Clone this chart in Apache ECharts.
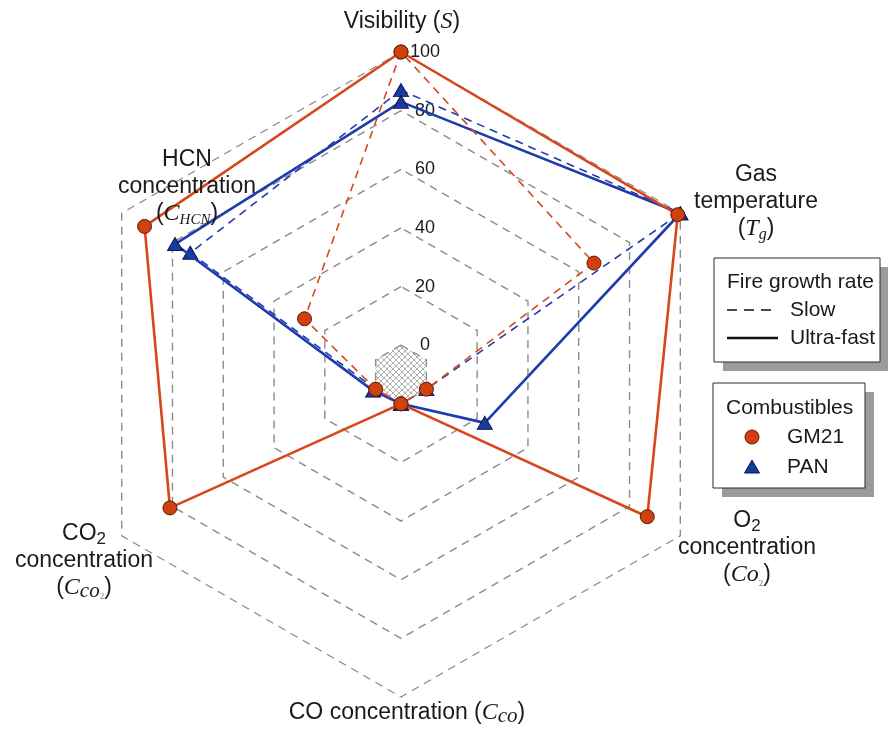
<!DOCTYPE html>
<html>
<head>
<meta charset="utf-8">
<script src="https://cdn.jsdelivr.net/npm/echarts@6/dist/echarts.min.js"></script>
<style>
  html, body { margin: 0; padding: 0; background: #ffffff; }
  #chart { width: 888px; height: 729px; }
</style>
</head>
<body>
<div id="chart"></div>
<script>
// Indicators listed clockwise from the top of the radar
const indicatorKeys = ['Visibility', 'Gas temperature', 'O2 concentration', 'CO concentration', 'CO2 concentration', 'HCN concentration'];

// Normalised values (0-100) per indicator, same order as indicatorKeys
const gm21Slow      = [100, 66, 0, 0, 0, 28];
const gm21UltraFast = [100, 99, 87, 0, 81, 91];
const panSlow       = [87, 100, 0, 0, 0, 73];
const panUltraFast  = [83, 100, 23, 0, 1, 79];

// Zero level, shown as the hatched hexagon in the middle
const zeroLevel = [0, 0, 0, 0, 0, 0];

// Scale and ring labels
const axisMin = -10;
const axisMax = 100;
const tickLabels = [0, 20, 40, 60, 80, 100];

// Legend entries
const growthRates = ['Slow', 'Ultra-fast'];
const combustibles = ['GM21', 'PAN'];

// Rich-text titles for each indicator (clockwise from top)
const axisTitles = [
  'Visibility ({it|S})',
  'Gas\ntemperature\n({it|T}{sub|g})',
  'O{s2|2}\nconcentration\n({it|Co}{tiny|2})',
  'CO concentration ({it|C}{itl|co})',
  'CO{s2|2}\nconcentration\n({it|C}{itl|co}{tiny|2})',
  'HCN\nconcentration\n({it|C}{sc|HCN})'
];

// ---------------- styling / layout ----------------
const RED = '#d8471a';
const RED_FILL = '#d1400f';
const RED_EDGE = '#5c1a05';
const BLUE = '#1f3cad';
const BLUE_FILL = '#1b3a9f';
const BLUE_EDGE = '#0b1850';
const GRID = '#8c8c8c';
const TEXT = '#1a1a1a';
const SANS = '"Liberation Sans", Arial, sans-serif';
const SERIF = '"Liberation Serif", "Times New Roman", serif';

const radarCenter = [401, 374.5];
const radarRadius = 322.5;

// title anchor points (centre of each text block), clockwise from top
const titleAnchors = [[402, 22], [756, 202], [747, 548], [407, 713], [84, 561], [187, 187]];

// ECharts lays indicators out counter-clockwise, so remap the clockwise order
const ccwOrder = [0, 5, 4, 3, 2, 1];
const toCcw = arr => ccwOrder.map(i => arr[i]);

function hatchPattern() {
  const c = document.createElement('canvas');
  c.width = 6; c.height = 6;
  const g = c.getContext('2d');
  g.strokeStyle = '#9a9a9a';
  g.lineWidth = 0.8;
  g.beginPath();
  g.moveTo(0, 0); g.lineTo(6, 6);
  g.moveTo(6, 0); g.lineTo(0, 6);
  g.stroke();
  return c;
}

const indicators = toCcw(indicatorKeys).map((name, k) => {
  const ind = { name: name, min: axisMin, max: axisMax };
  if (k === 0) {
    ind.axisLabel = {
      show: true,
      formatter: v => (tickLabels.indexOf(Math.round(v)) >= 0 && Math.abs(v - Math.round(v)) < 1e-6) ? String(Math.round(v)) : ''
    };
  }
  return ind;
});

const seriesDefs = [
  { name: 'PAN Slow', values: panSlow, color: BLUE, fill: BLUE_FILL, edge: BLUE_EDGE, symbol: 'triangle', dashed: true },
  { name: 'PAN Ultra-fast', values: panUltraFast, color: BLUE, fill: BLUE_FILL, edge: BLUE_EDGE, symbol: 'triangle', dashed: false },
  { name: 'GM21 Slow', values: gm21Slow, color: RED, fill: RED_FILL, edge: RED_EDGE, symbol: 'circle', dashed: true },
  { name: 'GM21 Ultra-fast', values: gm21UltraFast, color: RED, fill: RED_FILL, edge: RED_EDGE, symbol: 'circle', dashed: false }
];

const series = [{
  type: 'radar',
  name: 'zero',
  silent: true,
  z: 1,
  symbol: 'none',
  lineStyle: { width: 0, opacity: 0 },
  areaStyle: { color: { image: hatchPattern(), repeat: 'repeat' }, opacity: 1 },
  data: [{ value: toCcw(zeroLevel) }]
}].concat(seriesDefs.map((s, i) => ({
  type: 'radar',
  name: s.name,
  z: 2 + i,
  symbol: s.symbol,
  symbolSize: s.symbol === 'circle' ? 14 : [15, 13],
  itemStyle: { color: s.fill, borderColor: s.edge, borderWidth: 1 },
  lineStyle: s.dashed
    ? { color: s.color, width: 1.6, type: [8, 6] }
    : { color: s.color, width: 2.6, type: 'solid' },
  data: [{ value: toCcw(s.values) }]
})));

// legend boxes
function legendBox(x, y, w, h) {
  return [
    { type: 'rect', shape: { x: x + 9, y: y + 9, width: w, height: h }, style: { fill: '#9b9b9b' }, z: 10 },
    { type: 'rect', shape: { x: x, y: y, width: w, height: h }, style: { fill: '#ffffff', stroke: '#2a2a2a', lineWidth: 1 }, z: 11 }
  ];
}
function legendText(text, x, y) {
  return { type: 'text', x: x, y: y, z: 12, style: { text: text, fill: TEXT, font: '21px ' + SANS, verticalAlign: 'middle', align: 'left' } };
}

const graphics = [];
// indicator titles
axisTitles.forEach((t, i) => {
  graphics.push({
    type: 'text',
    x: titleAnchors[i][0],
    y: titleAnchors[i][1],
    z: 20,
    style: {
      text: t,
      fill: TEXT,
      font: '23px ' + SANS,
      align: 'center',
      verticalAlign: 'middle',
      lineHeight: 27,
      rich: {
        it: { fontFamily: SERIF, fontStyle: 'italic', fontSize: 24, fill: TEXT },
        itl: { fontFamily: SERIF, fontStyle: 'italic', fontSize: 21, fill: TEXT, lineHeight: 21, verticalAlign: 'bottom' },
        sub: { fontFamily: SERIF, fontStyle: 'italic', fontSize: 16, fill: TEXT, lineHeight: 16, verticalAlign: 'bottom' },
        sc: { fontFamily: SERIF, fontStyle: 'italic', fontSize: 15, fill: TEXT, lineHeight: 19, verticalAlign: 'bottom' },
        s2: { fontFamily: SANS, fontSize: 17, fill: TEXT, lineHeight: 19, verticalAlign: 'bottom' },
        tiny: { fontFamily: SERIF, fontSize: 9, fill: '#777', lineHeight: 14, verticalAlign: 'bottom' }
      }
    }
  });
});

// legend: fire growth rate
graphics.push(...legendBox(714, 258, 166, 104));
graphics.push(legendText('Fire growth rate', 727, 282));
growthRates.forEach((name, i) => {
  const y = 310 + 28 * i;
  const dashed = name === 'Slow';
  graphics.push({
    type: 'line', z: 12,
    shape: { x1: 727, y1: y, x2: 778, y2: y },
    style: { stroke: '#111', lineWidth: dashed ? 1.5 : 2.6, lineDash: dashed ? [10, 7] : null }
  });
  graphics.push(legendText(name, 790, y));
});

// legend: combustibles
graphics.push(...legendBox(713, 383, 152, 105));
graphics.push(legendText('Combustibles', 726, 408));
combustibles.forEach((name, i) => {
  const y = 437 + 30 * i;
  if (name === 'GM21') {
    graphics.push({ type: 'circle', z: 12, shape: { cx: 752, cy: y, r: 7 }, style: { fill: RED_FILL, stroke: RED_EDGE, lineWidth: 1 } });
  } else {
    graphics.push({ type: 'polygon', z: 12, shape: { points: [[752, y - 7], [744.5, y + 6], [759.5, y + 6]] }, style: { fill: BLUE_FILL, stroke: BLUE_EDGE, lineWidth: 1 } });
  }
  graphics.push(legendText(name, 787, y));
});

const chart = echarts.init(document.getElementById('chart'), null, { renderer: 'canvas' });
chart.setOption({
  backgroundColor: '#ffffff',
  animation: false,
  radar: {
    center: radarCenter,
    radius: radarRadius,
    startAngle: 90,
    shape: 'polygon',
    splitNumber: 11,
    indicator: indicators,
    axisName: { show: false },
    axisLine: { show: false },
    axisTick: { show: false },
    axisLabel: {
      show: false,
      color: TEXT,
      fontSize: 18,
      fontFamily: SANS,
      margin: -24,
      align: 'center',
      verticalAlign: 'middle'
    },
    splitArea: { show: false },
    splitLine: {
      show: true,
      lineStyle: { color: ['rgba(0,0,0,0)', GRID], width: 1.4, type: [8, 6] }
    }
  },
  series: series,
  graphic: graphics
});
</script>
</body>
</html>
